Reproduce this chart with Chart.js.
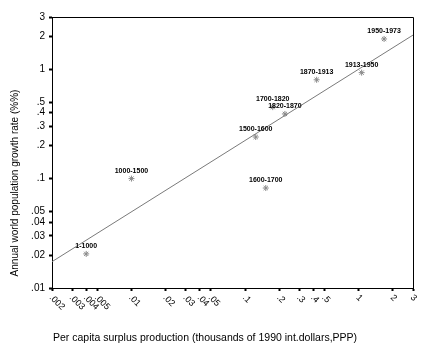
<!DOCTYPE html>
<html>
<head>
<meta charset="utf-8">
<script src="https://cdn.jsdelivr.net/npm/chart.js@4/dist/chart.umd.min.js"></script>
<style>
  html, body { margin: 0; padding: 0; background: #fff; }
  canvas { display: block; }
</style>
</head>
<body>
<canvas id="c" width="439" height="349"></canvas>
<script>
// Periods and their values (per capita surplus, thousands of 1990 int. dollars; growth rate, %)
const periods = ['1-1000', '1000-1500', '1500-1600', '1600-1700', '1700-1820',
                 '1820-1870', '1870-1913', '1913-1950', '1950-1973'];
const surplus = [0.004, 0.01, 0.124, 0.152, 0.175, 0.224, 0.426, 1.06, 1.67];
const growthRate = [0.0205, 0.1, 0.24, 0.082, 0.45, 0.39, 0.80, 0.93, 1.89];

// Fitted trend line end points
const fitX = [0.002, 3];
const fitY = [0.0174, 2.05];

// Axis ticks
const xTicks = [0.002, 0.003, 0.004, 0.005, 0.01, 0.02, 0.03, 0.04, 0.05,
                0.1, 0.2, 0.3, 0.4, 0.5, 1, 2, 3];
const xTickLabels = ['.002', '.003', '.004', '.005', '.01', '.02', '.03', '.04', '.05',
                     '.1', '.2', '.3', '.4', '.5', '1', '2', '3'];
const yTicks = [0.01, 0.02, 0.03, 0.04, 0.05, 0.1, 0.2, 0.3, 0.4, 0.5, 1, 2, 3];
const yTickLabels = ['.01', '.02', '.03', '.04', '.05', '.1', '.2', '.3', '.4', '.5', '1', '2', '3'];

const xTitle = 'Per capita surplus production (thousands of 1990 int.dollars,PPP)';
const yTitle = 'Annual world population growth rate (%%)';

const FONT = '"Liberation Sans", Arial, sans-serif';

const decorations = {
  id: 'decorations',
  afterDraw(chart) {
    const ctx = chart.ctx;
    const a = chart.chartArea;
    const xs = chart.scales.x;
    ctx.save();

    // frame on top and right
    ctx.strokeStyle = '#000';
    ctx.lineWidth = 1;
    ctx.beginPath();
    ctx.moveTo(a.left, a.top + 0.5);
    ctx.lineTo(a.right + 0.5, a.top + 0.5);
    ctx.lineTo(a.right + 0.5, a.bottom);
    ctx.stroke();

    // slanted x tick labels
    ctx.fillStyle = '#000';
    ctx.font = '9px ' + FONT;
    ctx.textAlign = 'left';
    ctx.textBaseline = 'top';
    xTicks.forEach((v, i) => {
      const px = xs.getPixelForValue(v);
      ctx.save();
      ctx.translate(px + 2, a.bottom + 5);
      ctx.rotate(Math.PI / 4);
      ctx.fillText(xTickLabels[i], 0, 0);
      ctx.restore();
    });

    // period labels above each point
    const meta = chart.getDatasetMeta(0);
    ctx.font = 'bold 7px ' + FONT;
    ctx.textAlign = 'center';
    ctx.textBaseline = 'alphabetic';
    meta.data.forEach((pt, i) => {
      ctx.fillText(periods[i], pt.x, pt.y - 6);
    });

    // axis titles
    ctx.font = '10.5px ' + FONT;
    ctx.textAlign = 'left';
    ctx.textBaseline = 'middle';
    ctx.fillText(xTitle, a.left + 1, 338);

    ctx.font = '10px ' + FONT;
    ctx.save();
    ctx.translate(15, 183);
    ctx.rotate(-Math.PI / 2);
    ctx.textAlign = 'center';
    ctx.fillText(yTitle, 0, 0);
    ctx.restore();

    ctx.restore();
  }
};

const whiteBg = {
  id: 'whiteBg',
  beforeDraw(chart) {
    const ctx = chart.ctx;
    ctx.save();
    ctx.fillStyle = '#fff';
    ctx.fillRect(0, 0, chart.width, chart.height);
    ctx.restore();
  }
};

new Chart(document.getElementById('c'), {
  type: 'scatter',
  data: {
    datasets: [
      {
        data: surplus.map((x, i) => ({ x: x, y: growthRate[i] })),
        pointStyle: 'star',
        radius: 3,
        borderColor: '#8a8a8a',
        backgroundColor: '#8a8a8a',
        borderWidth: 1,
        showLine: false
      },
      {
        data: fitX.map((x, i) => ({ x: x, y: fitY[i] })),
        showLine: true,
        borderColor: '#7a7a7a',
        borderWidth: 1,
        pointRadius: 0,
        fill: false
      }
    ]
  },
  options: {
    responsive: false,
    animation: false,
    events: [],
    layout: { padding: { left: 0, top: 17, right: 26, bottom: 0 } },
    plugins: { legend: { display: false }, tooltip: { enabled: false } },
    scales: {
      x: {
        type: 'logarithmic',
        min: 0.002,
        max: 3,
        afterBuildTicks: (s) => { s.ticks = xTicks.map(v => ({ value: v })); },
        afterFit: (s) => { s.height = 61; },
        ticks: { display: false, autoSkip: false },
        grid: {
          drawOnChartArea: false, drawTicks: true, tickLength: 3,
          tickWidth: 2, color: '#000', tickColor: '#000'
        },
        border: { display: true, color: '#000', width: 1 },
        title: { display: false }
      },
      y: {
        type: 'logarithmic',
        min: 0.01,
        max: 3,
        afterBuildTicks: (s) => { s.ticks = yTicks.map(v => ({ value: v })); },
        afterFit: (s) => { s.width = 52; },
        ticks: {
          autoSkip: false,
          color: '#000',
          padding: 4,
          font: { family: FONT, size: 10 },
          callback: (v, i) => yTickLabels[i]
        },
        grid: {
          drawOnChartArea: false, drawTicks: true, tickLength: 3,
          tickWidth: 2, color: '#000', tickColor: '#000'
        },
        border: { display: true, color: '#000', width: 1 },
        title: { display: false }
      }
    }
  },
  plugins: [whiteBg, decorations]
});
</script>
</body>
</html>
